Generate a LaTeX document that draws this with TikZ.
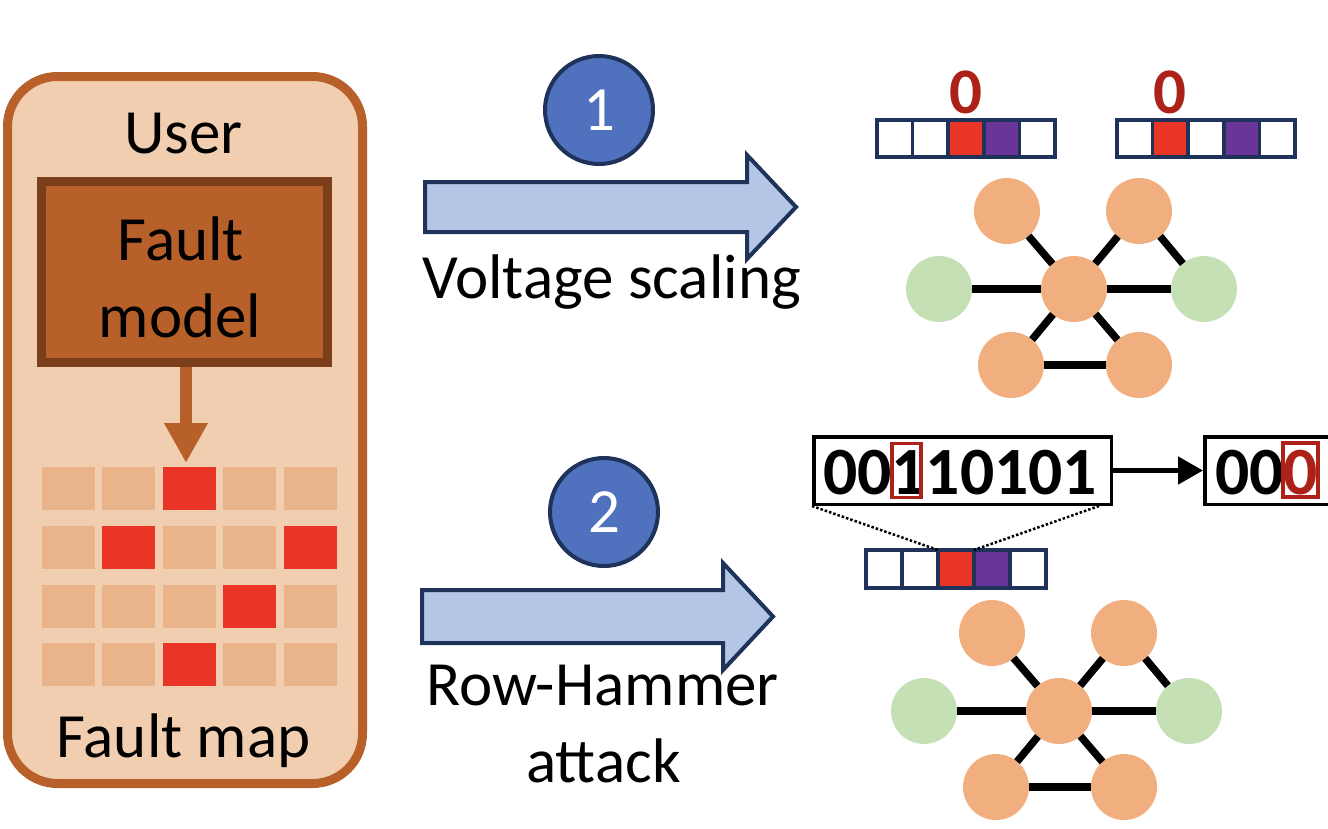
\documentclass[tikz,border=0pt]{standalone}
\usepackage{fontspec}
\setmainfont{Carlito}
\usetikzlibrary{calc,arrows.meta}
\definecolor{boxfill}{RGB}{242,206,176}
\definecolor{boxline}{RGB}{184,96,42}
\definecolor{fmfill}{RGB}{183,96,42}
\definecolor{fmline}{RGB}{123,62,26}
\definecolor{cL}{RGB}{233,180,138}
\definecolor{cR}{RGB}{233,53,38}
\definecolor{arrfill}{RGB}{180,198,230}
\definecolor{navy}{RGB}{31,50,90}
\definecolor{numblue}{RGB}{79,113,190}
\definecolor{gorange}{RGB}{241,175,128}
\definecolor{ggreen}{RGB}{197,224,180}
\definecolor{bitred}{RGB}{233,53,38}
\definecolor{bitpurple}{RGB}{106,53,153}
\definecolor{darkred}{RGB}{172,33,24}

\newcommand\mygraph[3]{%
  \node[gnode,fill=gorange] (#1c)  at (#2,#3) {};
  \node[gnode,fill=gorange] (#1tl) at (#2-67,#3-78) {};
  \node[gnode,fill=gorange] (#1tr) at (#2+65,#3-78) {};
  \node[gnode,fill=ggreen]  (#1lg) at (#2-135,#3) {};
  \node[gnode,fill=ggreen]  (#1rg) at (#2+130,#3) {};
  \node[gnode,fill=gorange] (#1bl) at (#2-63,#3+76) {};
  \node[gnode,fill=gorange] (#1br) at (#2+65,#3+76) {};
  \draw[gedge] (#1tl) -- (#1c);
  \draw[gedge] (#1tr) -- (#1c);
  \draw[gedge] (#1tr) -- (#1rg);
  \draw[gedge] (#1lg) -- (#1c);
  \draw[gedge] (#1c) -- (#1rg);
  \draw[gedge] (#1c) -- (#1bl);
  \draw[gedge] (#1c) -- (#1br);
  \draw[gedge] (#1bl) -- (#1br);
}
% prefix, x0, y0, cell width, cell height, colours
\newcommand\mybits[6]{%
  \foreach \k [count=\i from 0] in {#6}
    \node[bitcell, fill=\k, minimum width=#4, minimum height=#5] (#1\i) at (#2+#4*\i+#4/2, #3+#5/2) {};
}

\begin{document}
\begin{tikzpicture}[x=1pt,y=-1pt,
  bigtext/.style={font=\fontsize{63}{70}\selectfont, inner sep=0, outer sep=0},
  bits/.style={font=\fontsize{67.6}{70}\selectfont\bfseries, inner sep=0, outer sep=0},
  zero/.style={font=\fontsize{65}{70}\selectfont\bfseries, text=darkred, inner sep=0, outer sep=0},
  numcirc/.style={circle, draw=navy, fill=numblue, line width=4, minimum size=108, inner sep=0,
     text=white, font=\fontsize{63}{70}\selectfont},
  blockarrow/.style={draw=navy, fill=arrfill, line width=4, line join=miter},
  gridcell/.style={minimum width=53, minimum height=43, inner sep=0, outer sep=0},
  gnode/.style={circle, minimum size=66, inner sep=0, outer sep=0},
  gedge/.style={line width=7.5, black},
  bitcell/.style={draw=navy, line width=3.5, inner sep=0, outer sep=0},
  bitbox/.style={draw=black, line width=3.5, fill=white, inner sep=0},
  flipbox/.style={draw=darkred, line width=3.5, inner sep=0},
  dotline/.style={line width=2.5, dash pattern=on 2.5pt off 2pt}
]
\useasboundingbox (0,0) rectangle (1328,828);

% ---------- left panel ----------
\node[draw=boxline, fill=boxfill, line width=9, rounded corners=50,
      minimum width=355, minimum height=707, inner sep=0] (userbox) at (185,430) {};
\node[bigtext, anchor=base] (user) at (183.5,153) {User};
\node[draw=fmline, fill=fmfill, line width=9, minimum width=286, minimum height=181,
      inner sep=0] (fm) at (184.5,272) {};
\node[bigtext, anchor=base] (fault) at (181,260) {Fault};
\node[bigtext, anchor=base] (model) at (180,337) {model};

\foreach \k [count=\c from 0] in {cL,cL,cR,cL,cL}
  \node[gridcell, fill=\k] (g0\c) at (68.3+60.5*\c, 488.5) {};
\foreach \k [count=\c from 0] in {cL,cR,cL,cL,cR}
  \node[gridcell, fill=\k] (g1\c) at (68.3+60.5*\c, 547.3) {};
\foreach \k [count=\c from 0] in {cL,cL,cL,cR,cL}
  \node[gridcell, fill=\k] (g2\c) at (68.3+60.5*\c, 606.1) {};
\foreach \k [count=\c from 0] in {cL,cL,cR,cL,cL}
  \node[gridcell, fill=\k] (g3\c) at (68.3+60.5*\c, 664.9) {};

\coordinate (fmtip) at (186,463);
\draw[line width=12, fmfill, -{Triangle[length=40pt,width=41pt]}] (fm.south -| fmtip) -- (fmtip);

\node[bigtext, anchor=base] (faultmap) at (183.5,757) {Fault map};

% ---------- arrow 1 ----------
\draw[blockarrow] (425,182) -- (747,182) -- (747,155) -- (796,207) -- (747,259) -- (747,232) -- (425,232) -- cycle;
\node[numcirc] (n1) at (599,110) {1};
\node[bigtext, anchor=base] (volt) at (611.5,298) {Voltage scaling};

% ---------- arrow 2 ----------
\draw[blockarrow] (422,590) -- (723,590) -- (723,563) -- (773,616.5) -- (723,670) -- (723,643) -- (422,643) -- cycle;
\node[numcirc] (n2) at (604,512) {2};
\node[bigtext, anchor=base] (rh) at (602.5,705) {Row-Hammer};
\node[bigtext, anchor=base] (att) at (603.5,782) {attack};

% ---------- top right ----------
\mybits{ta}{877}{120}{35.6}{37}{white,white,bitred,bitpurple,white}
\mybits{tb}{1117}{120}{35.6}{37}{white,bitred,white,bitpurple,white}
\node[zero, anchor=base] (za) at ($(ta2.north)+(0,-7)$) {0};
\node[zero, anchor=base] (zb) at ($(tb1.north)+(0,-7)$) {0};
\mygraph{u}{1074}{289}

% ---------- bottom right ----------
\node[bitbox, minimum width=297.5, minimum height=67.5] (bb1) at (962.5,470.5) {};
\node[bits, anchor=base west] (d1) at (823,494) {00};
\node[bits, anchor=base west] (d2) at (d1.base east) {1};
\node[bits, anchor=base west] (d3) at (d2.base east) {10101};
\node[flipbox, minimum width=29, minimum height=54] (f1) at ($(d2.base)+(-2,-23.5)$) {};

\node[bitbox, minimum width=196.5, minimum height=67.5] (bb2) at (1303,470.5) {};
\node[bits, anchor=base west] (e1) at (1215,494) {00};
\node[bits, anchor=base west, text=darkred] (e2) at (e1.base east) {0};
\node[flipbox, minimum width=35, minimum height=54] (f2) at ($(e2.base)+(0,-24)$) {};

\draw[line width=5, -{Triangle[length=25pt,width=27pt]}] (bb1.east) -- (bb2.west);

\mybits{bc}{866}{550}{36}{38}{white,white,bitred,bitpurple,white}
\coordinate (dotr) at ($(bb1.south east)+(-14,0)$);
\draw[dotline] (bb1.south west) -- (bc2.north west);
\draw[dotline] (dotr) -- (bc2.north east);

\mygraph{l}{1059}{711}
\end{tikzpicture}
\end{document}
